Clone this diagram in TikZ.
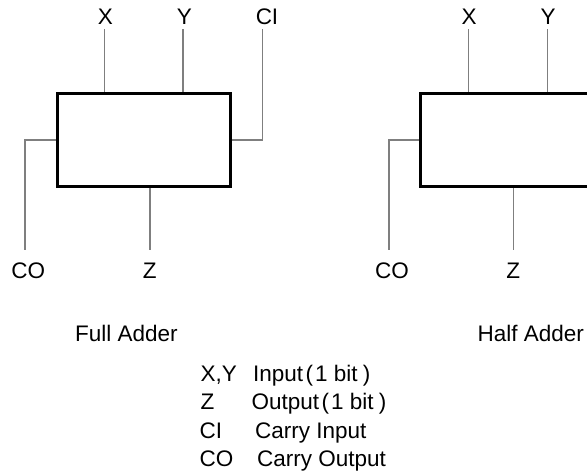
\documentclass[tikz,border=0pt]{standalone}
\usepackage{fontspec}
\setmainfont{Liberation Sans}
\definecolor{wiregray}{HTML}{7F7F7F}
\newcommand{\lpar}{\kern2.5pt(\kern2pt}
\newcommand{\rpar}{\kern5pt)}
\begin{document}
\begin{tikzpicture}[x=1pt,y=-1pt,
  lbl/.style={font=\fontsize{22.5}{26}\selectfont, inner sep=0pt},
  blk/.style={draw=black, line width=3pt, minimum width=173.3pt, minimum height=93.7pt, inner sep=0pt},
  wire/.style={draw=wiregray, line width=1.5pt}]
\useasboundingbox (0,0) rectangle (587,475);
\clip (0,0) rectangle (587,475);
\fill[white] (0,0) rectangle (587,475);

% ---------- Full adder ----------
\node[blk] (fa) at (144.2,139.9) {};
\node[lbl] (fxl) at (105.5,17) {X};
\node[lbl] (fyl) at (184.5,17) {Y};
\node[lbl] (fcil) at (267,17) {CI};
\node[lbl] (fcol) at (28.3,270.5) {CO};
\node[lbl] (fzl) at (149.7,271) {Z};
\coordinate (fxt) at (104.3,29);
\coordinate (fyt) at (183,29);
\coordinate (fcit) at (262.3,29);
\coordinate (fcob) at (25,250);
\coordinate (fzb) at (150,250);
\draw[wire] (fxt) -- (fxt |- fa.north);
\draw[wire] (fyt) -- (fyt |- fa.north);
\draw[wire] (fcit) |- (fa.east);
\draw[wire] (fa.west) -| (fcob);
\draw[wire] (fzb |- fa.south) -- (fzb);
\node[lbl] (ftitle) at (126.3,333) {Full Adder};

% ---------- Half adder ----------
\node[blk] (ha) at (507.2,139.9) {};
\node[lbl] (hxl) at (469.2,17) {X};
\node[lbl] (hyl) at (548,17) {Y};
\node[lbl] (hcol) at (392,270.5) {CO};
\node[lbl] (hzl) at (513.3,271) {Z};
\coordinate (hxt) at (468.3,29);
\coordinate (hyt) at (547.3,29);
\coordinate (hcob) at (389,250);
\coordinate (hzb) at (513.3,250);
\draw[wire] (hxt) -- (hxt |- ha.north);
\draw[wire] (hyt) -- (hyt |- ha.north);
\draw[wire] (ha.west) -| (hcob);
\draw[wire] (hzb |- ha.south) -- (hzb);
\node[lbl] (htitle) at (530.8,333) {Half Adder};

% ---------- Legend ----------
\node[lbl,anchor=base west] (k1) at (200.3,381.5) {X,Y};
\node[lbl,anchor=base west] (k2) at (200.3,409.8) {Z};
\node[lbl,anchor=base west] (k3) at (199.5,438.1) {CI};
\node[lbl,anchor=base west] (k4) at (199.5,466.4) {CO};
\node[lbl,anchor=base west] (d1) at (253,381.5) {Input\lpar 1 bit\rpar};
\node[lbl,anchor=base west] (d2) at (251.5,409.8) {Output\lpar 1 bit\rpar};
\node[lbl,anchor=base west] (d3) at (255,438.1) {Carry Input};
\node[lbl,anchor=base west] (d4) at (257,466.4) {Carry Output};
\end{tikzpicture}
\end{document}
